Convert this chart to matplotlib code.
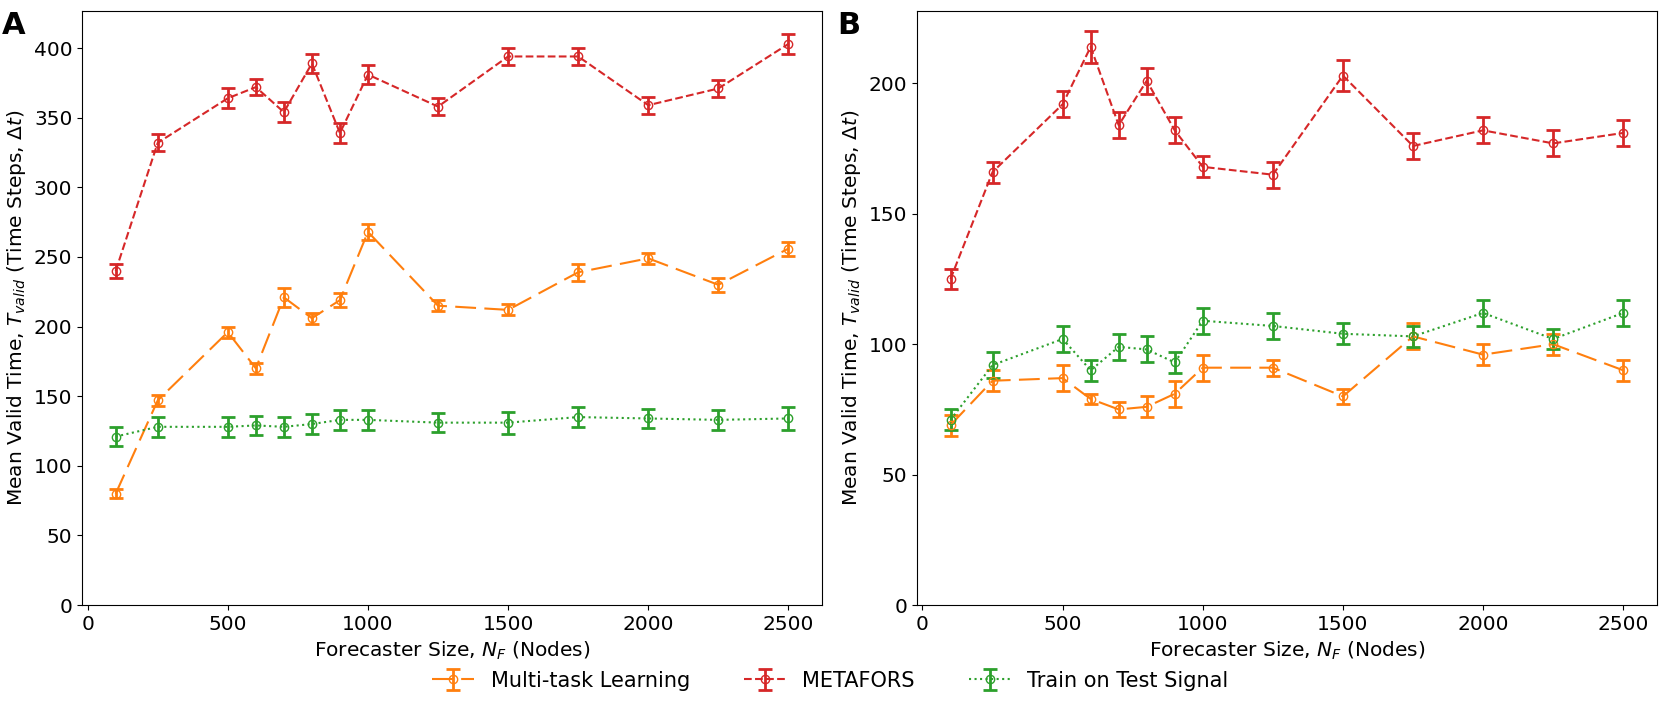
import matplotlib
matplotlib.use("Agg")
import matplotlib.pyplot as plt

plt.rcParams["font.family"] = ["DejaVu Sans"]
plt.rcParams["font.size"] = 14.5

sizes = [100, 250, 500, 600, 700, 800, 900, 1000, 1250, 1500, 1750, 2000, 2250, 2500]

# panel A
a_multi = [80, 147, 196, 170, 221, 206, 219, 268, 215, 212, 239, 249, 230, 256]
a_multi_err = [3, 4, 4, 4, 7, 4, 5, 6, 4, 4, 6, 4, 5, 5]
a_meta = [240, 332, 364, 372, 354, 389, 339, 381, 358, 394, 394, 359, 371, 403]
a_meta_err = [5, 6, 7, 6, 7, 7, 7, 7, 6, 6, 6, 6, 6, 7]
a_test = [121, 128, 128, 129, 128, 130, 133, 133, 131, 131, 135, 134, 133, 134]
a_test_err = [7, 7, 7, 7, 7, 7, 7, 7, 7, 8, 7, 7, 7, 8]

# panel B
b_multi = [69, 86, 87, 79, 75, 76, 81, 91, 91, 80, 103, 96, 100, 90]
b_multi_err = [4, 4, 5, 2, 3, 4, 5, 5, 3, 3, 5, 4, 4, 4]
b_meta = [125, 166, 192, 214, 184, 201, 182, 168, 165, 203, 176, 182, 177, 181]
b_meta_err = [4, 4, 5, 6, 5, 5, 5, 4, 5, 6, 5, 5, 5, 5]
b_test = [71, 92, 102, 90, 99, 98, 93, 109, 107, 104, 103, 112, 102, 112]
b_test_err = [4, 5, 5, 4, 5, 5, 4, 5, 5, 4, 4, 5, 4, 5]

labels = ["Multi-task Learning", "METAFORS", "Train on Test Signal"]
colors = ["tab:orange", "tab:red", "tab:green"]
styles = [(0, (10, 4)), "--", ":"]

panels = [
    ("A", [(a_multi, a_multi_err), (a_meta, a_meta_err), (a_test, a_test_err)]),
    ("B", [(b_multi, b_multi_err), (b_meta, b_meta_err), (b_test, b_test_err)]),
]

fig = plt.figure(figsize=(16.61, 7.06), dpi=100)
ax_a = fig.add_axes([0.0494, 0.143, 0.4455, 0.8414])
ax_b = fig.add_axes([0.552, 0.143, 0.4455, 0.8414])

for ax, (tag, series) in zip([ax_a, ax_b], panels):
    for (vals, errs), label, color, ls in zip(series, labels, colors, styles):
        ax.errorbar(sizes, vals, yerr=errs, color=color, linestyle=ls, linewidth=1.5,
                    marker="o", markersize=6, markerfacecolor="none",
                    elinewidth=2, capsize=5, capthick=2, label=label)
    ax.set_ylim(bottom=0)
    ax.set_xlabel("Forecaster Size, $N_F$ (Nodes)")
    ax.set_ylabel("Mean Valid Time, $T_{valid}$ (Time Steps, $\\Delta t$)")
    ax.text(-0.108, 1.0, tag, transform=ax.transAxes, fontsize=22, fontweight="bold",
            ha="left", va="top")

handles, lbls = ax_a.get_legend_handles_labels()
fig.legend(handles, lbls, loc="lower center", bbox_to_anchor=(0.5, -0.005), ncol=3,
           frameon=False, fontsize=15, columnspacing=2.6)

fig.savefig("out.png", dpi=100)
